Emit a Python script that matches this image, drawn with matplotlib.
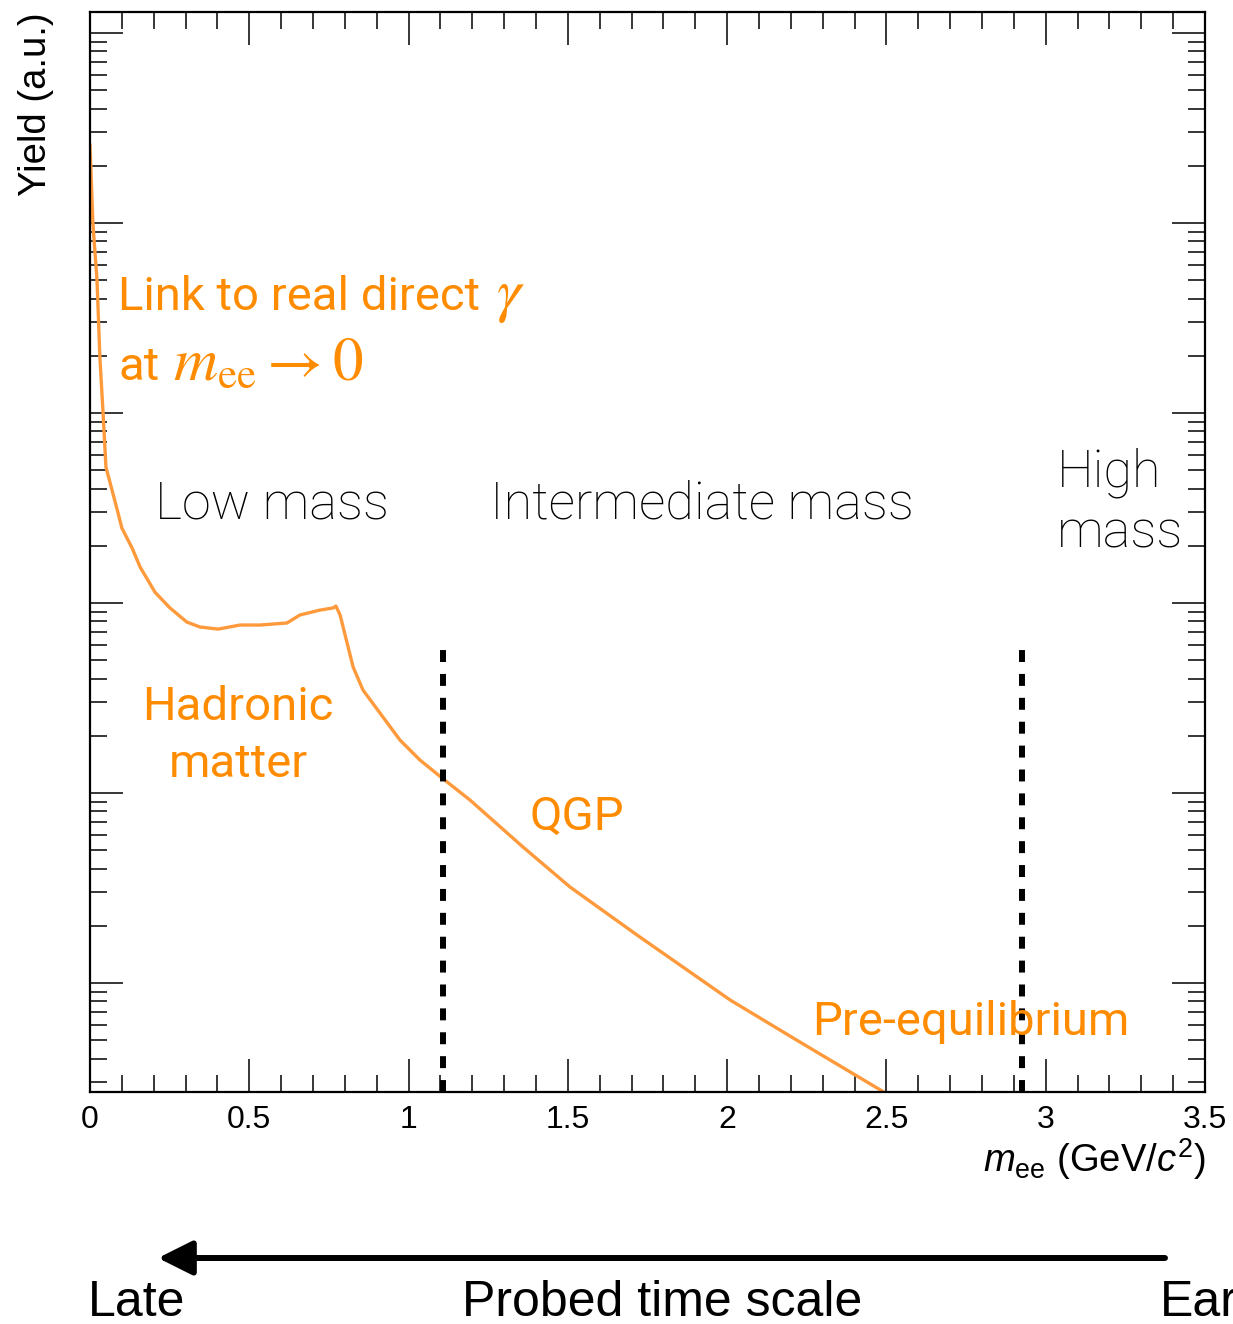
import matplotlib
matplotlib.use("Agg")
import matplotlib.pyplot as plt
from matplotlib.ticker import MultipleLocator, LogLocator, NullFormatter, FormatStrFormatter

plt.rcParams['font.family'] = ['Liberation Sans', 'DejaVu Sans']
plt.rcParams['mathtext.fontset'] = 'custom'
plt.rcParams['mathtext.rm'] = 'Liberation Sans'
plt.rcParams['mathtext.it'] = 'Liberation Sans:italic'

# dielectron mass spectrum sketch (arbitrary units)
mass = [0.0, 0.009, 0.022, 0.031, 0.041, 0.050, 0.088, 0.10, 0.132, 0.157,
        0.204, 0.251, 0.304, 0.345, 0.402, 0.471, 0.534, 0.618, 0.659, 0.722,
        0.763, 0.772, 0.785, 0.826, 0.857, 0.91, 0.973, 1.036, 1.105, 1.193,
        1.359, 1.507, 1.717, 2.009, 2.219, 2.5]
yield_ = [25700, 10000, 5010, 1970, 1000, 520, 298, 248, 195, 155,
          114, 94.2, 79.4, 74.8, 72.9, 76.6, 76.6, 78.5, 86.5, 91.8,
          94.2, 96.4, 86.5, 46, 34.8, 26.4, 19.0, 14.9, 12.0, 9.18,
          5.20, 3.20, 1.79, 0.815, 0.50, 0.262]

boundaries = [1.108, 2.925]
boundary_top = 60

xmin, xmax = 0, 3.5
ymin, ymax = 0.267, 1.29e5

orange_line = '#ff9a3c'
orange_text = '#ff8c00'

fig = plt.figure(figsize=(12.33, 13.24), dpi=100)
ax = fig.add_axes([90 / 1233, 1 - 1092 / 1324, 1115 / 1233, 1080 / 1324])

ax.plot(mass, yield_, color=orange_line, lw=2.4, solid_joinstyle='round')
for b in boundaries:
    ax.plot([b, b], [ymin, boundary_top], color='black', lw=4.3,
            ls=(0, (2.0, 2.0)), dash_capstyle='butt')

ax.set_yscale('log')
ax.set_xlim(xmin, xmax)
ax.set_ylim(ymin, ymax)

ax.xaxis.set_major_locator(MultipleLocator(0.5))
ax.xaxis.set_minor_locator(MultipleLocator(0.1))
ax.xaxis.set_major_formatter(FormatStrFormatter('%g'))
ax.yaxis.set_major_locator(LogLocator(base=10, numticks=20))
ax.yaxis.set_minor_locator(LogLocator(base=10, subs=range(2, 10), numticks=20))
ax.yaxis.set_major_formatter(NullFormatter())
ax.yaxis.set_minor_formatter(NullFormatter())

ax.tick_params(which='both', direction='in', top=True, right=True, width=1.1)
ax.tick_params(which='major', length=24)
ax.tick_params(which='minor', length=12)
ax.tick_params(axis='x', labelsize=23, pad=9)
for s in ax.spines.values():
    s.set_linewidth(1.6)

# region labels
light = dict(fontsize=37.5, color='black', fontweight='light',
             family=['Roboto', 'Liberation Sans'])
ax.text(0.204, 280, 'Low mass', **light)
ax.text(1.256, 280, 'Intermediate mass', **light)
ax.text(3.035, 408, 'High', **light)
ax.text(3.035, 195, 'mass', **light)

otext = dict(fontsize=34, color=orange_text, family=['Roboto', 'Liberation Sans'])
omath = dict(fontsize=44, color=orange_text, math_fontfamily='stix')
ax.text(0.088, 3500, 'Link to real direct', **otext)
ax.text(1.275, 3500, r'$\gamma$', **omath)
ax.text(0.088, 1490, 'at', **otext)
ax.text(0.261, 1490, r'$m_{\rm ee} \rightarrow 0$', **omath)
ax.text(0.465, 24.2, 'Hadronic', ha='center', **otext)
ax.text(0.465, 12.1, 'matter', ha='center', **otext)
ax.text(1.381, 6.38, 'QGP', **otext)
ax.text(2.266, 0.532, 'Pre-equilibrium', **otext)

fig.text(36 / 1233, 1 - 12 / 1324, 'Yield (a.u.)', rotation=90,
         ha='center', va='top', fontsize=27.5)
fig.text(1205 / 1233, 1 - 1172 / 1324, r'$m_{\rm ee}$ (GeV/$c^{2}$)',
         ha='right', va='baseline', fontsize=27.5)

# time-scale arrow below the axis
ay = 1 - 1258 / 1324
ax.annotate('', xy=(158 / 1233, ay), xytext=(1165 / 1233, ay),
            xycoords='figure fraction', textcoords='figure fraction',
            arrowprops=dict(arrowstyle='-|>,head_length=1.0,head_width=0.5',
                            mutation_scale=21, lw=4.3, color='black',
                            shrinkA=0, shrinkB=0))
ty = 1 - 1316 / 1324
big = dict(fontsize=36, color='black', va='baseline',
           family=['Liberation Sans Narrow', 'Liberation Sans'])
fig.text(88 / 1233, ty, 'Late', ha='left', **big)
fig.text(662 / 1233, ty, 'Probed time scale', ha='center', **big)
fig.text(1160 / 1233, ty, 'Early', ha='left', **big)

fig.savefig('out.png', dpi=100)
